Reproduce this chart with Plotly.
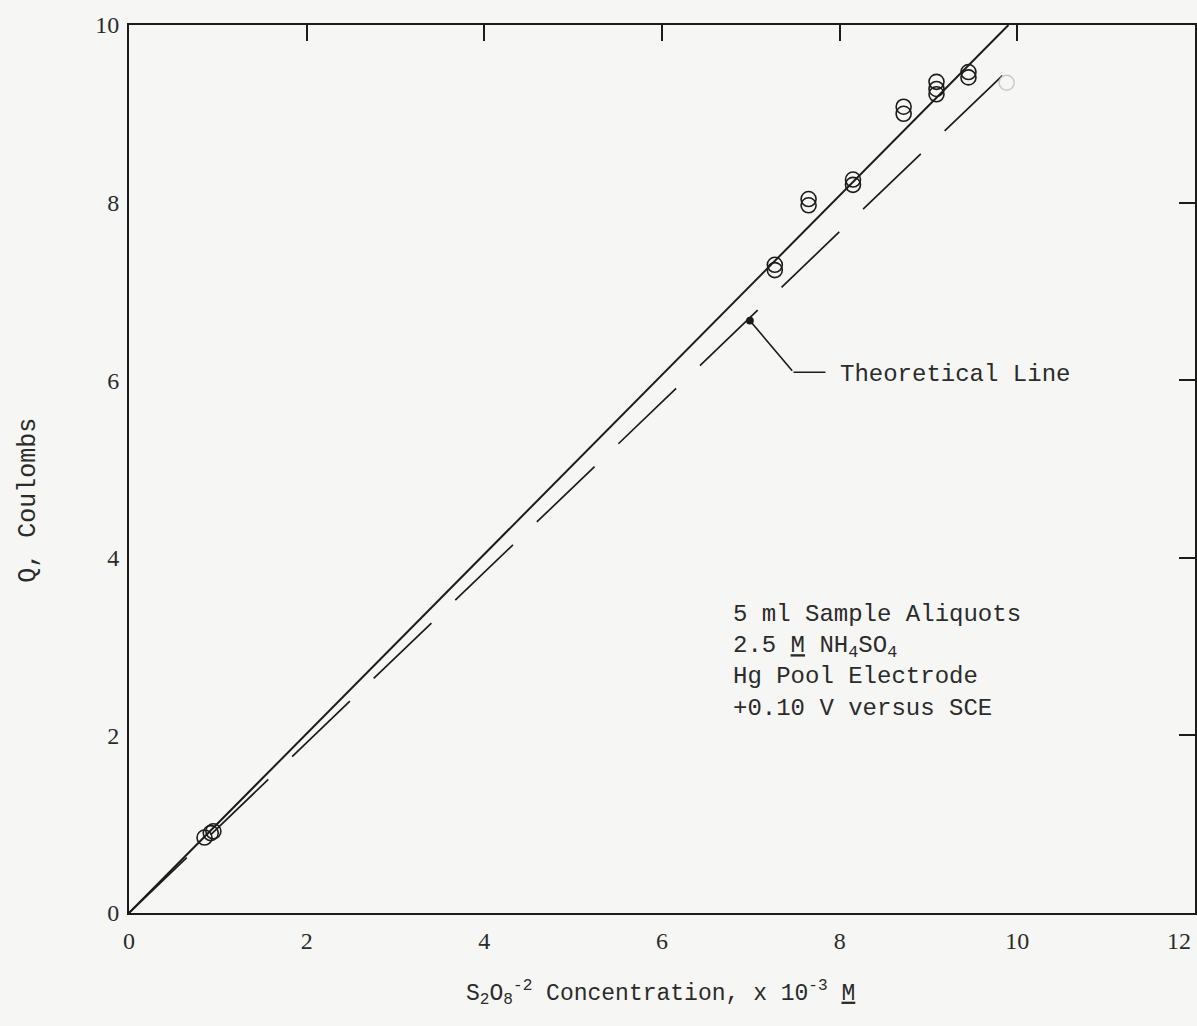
import plotly.graph_objects as go

# ---- data ----
conc_x = [0.85, 0.92, 0.95, 7.27, 7.27, 7.65, 7.65, 8.15, 8.15, 8.72, 8.72, 9.09, 9.09, 9.09, 9.45, 9.45]
charge_q = [0.85, 0.90, 0.92, 7.30, 7.24, 8.04, 7.97, 8.26, 8.20, 9.08, 9.00, 9.36, 9.28, 9.22, 9.47, 9.41]
faint_x = [9.88]
faint_q = [9.35]
fit_x = [0.0, 9.9]
fit_q = [0.0, 10.0]
theo_x = [0.0, 10.05]
theo_q = [0.0, 9.64]
x_ticks = [0, 2, 4, 6, 8, 10, 12]
x_tick_text = ["0", "2", "4", "6", "8", "10", ""]
last_x_label = "12"
y_ticks = [0, 2, 4, 6, 8, 10]
info_lines = ["5 ml Sample Aliquots",
              "2.5 <u>M</u> NH<sub>4</sub>SO<sub>4</sub>",
              "Hg Pool Electrode",
              "+0.10 V versus SCE"]

INK = "#1c1c1c"
TXT = "#2b2b2b"
BG = "#f6f6f4"
MONO = "Liberation Mono, Courier New, monospace"
SERIF = "Liberation Serif, Times New Roman, serif"

fig = go.Figure()
fig.add_trace(go.Scatter(x=fit_x, y=fit_q, mode="lines",
                         line=dict(color=INK, width=2), showlegend=False))
fig.add_trace(go.Scatter(x=theo_x, y=theo_q, mode="lines",
                         line=dict(color=INK, width=1.7, dash="80px,33px"), showlegend=False))
fig.add_trace(go.Scatter(x=conc_x, y=charge_q, mode="markers",
                         marker=dict(symbol="circle-open", size=15, color=INK,
                                     line=dict(width=1.6, color=INK)),
                         showlegend=False))
fig.add_trace(go.Scatter(x=faint_x, y=faint_q, mode="markers",
                         marker=dict(symbol="circle-open", size=15, color="#c8c8c8",
                                     line=dict(width=1.4, color="#c8c8c8")),
                         showlegend=False))
# empty trace to create the mirrored (top/right) tick axes
fig.add_trace(go.Scatter(x=[], y=[], xaxis="x2", yaxis="y2", showlegend=False))

axis_common = dict(showgrid=False, zeroline=False, showline=True,
                   linecolor=INK, linewidth=2, automargin=False)

fig.update_layout(
    width=1197, height=1026,
    margin=dict(l=129, r=2, t=25, b=113),
    paper_bgcolor=BG, plot_bgcolor=BG,
    xaxis=dict(range=[0, 12], tickvals=x_ticks, ticktext=x_tick_text, ticks="",
               ticklabelstandoff=5,
               tickfont=dict(family=SERIF, size=24, color=TXT), **axis_common),
    yaxis=dict(range=[0, 10], tickvals=y_ticks, ticks="",
               ticklabelstandoff=3, ticklabeloverflow="allow",
               tickfont=dict(family=SERIF, size=24, color=TXT), **axis_common),
    xaxis2=dict(range=[0, 12], overlaying="x", side="top", anchor="y2",
                tickvals=x_ticks[1:-1], ticks="inside", ticklen=16, tickwidth=2,
                tickcolor=INK, showticklabels=False, **axis_common),
    yaxis2=dict(range=[0, 10], overlaying="y", side="right", anchor="x2",
                tickvals=y_ticks[1:-1], ticks="inside", ticklen=16, tickwidth=2,
                tickcolor=INK, showticklabels=False, **axis_common),
)

# last x tick label, kept inside the page
fig.add_annotation(x=x_ticks[-1], xref="x", y=-0.031, yref="paper",
                   text=last_x_label, showarrow=False, xanchor="right", xshift=-2,
                   yanchor="middle", font=dict(family=SERIF, size=24, color=TXT))

# axis titles
fig.add_annotation(xref="paper", yref="paper", x=0.499, y=-0.09,
                   text="S<sub>2</sub>O<sub>8</sub><sup>-2</sup> Concentration, x 10<sup>-3</sup> <u>M</u>",
                   showarrow=False, xanchor="center", yanchor="middle",
                   font=dict(family=MONO, size=23, color=TXT))
fig.add_annotation(xref="paper", yref="paper", x=-0.095, y=0.465,
                   text="Q, Coulombs", textangle=-90, showarrow=False,
                   xanchor="center", yanchor="middle",
                   font=dict(family=MONO, size=25, color=TXT))

# condition block
fig.add_annotation(x=6.78, y=2.83, xref="x", yref="y",
                   text="<br>".join(info_lines), align="left", showarrow=False,
                   xanchor="left", yanchor="middle",
                   font=dict(family=MONO, size=24, color=TXT))

# theoretical line label with bent leader
fig.add_annotation(x=6.99, y=6.67, xref="x", yref="y",
                   ax=7.48, ay=6.09, axref="x", ayref="y",
                   text="", showarrow=True, arrowhead=6, arrowsize=1.2,
                   arrowwidth=1.6, arrowcolor=INK)
fig.add_shape(type="line", xref="x", yref="y", x0=7.48, y0=6.09, x1=7.84, y1=6.09,
              line=dict(color=INK, width=1.6))
fig.add_annotation(x=7.98, y=6.06, xref="x", yref="y", text="Theoretical Line",
                   showarrow=False, xanchor="left", yanchor="middle",
                   font=dict(family=MONO, size=24, color=TXT))

fig.write_html("out.html")
